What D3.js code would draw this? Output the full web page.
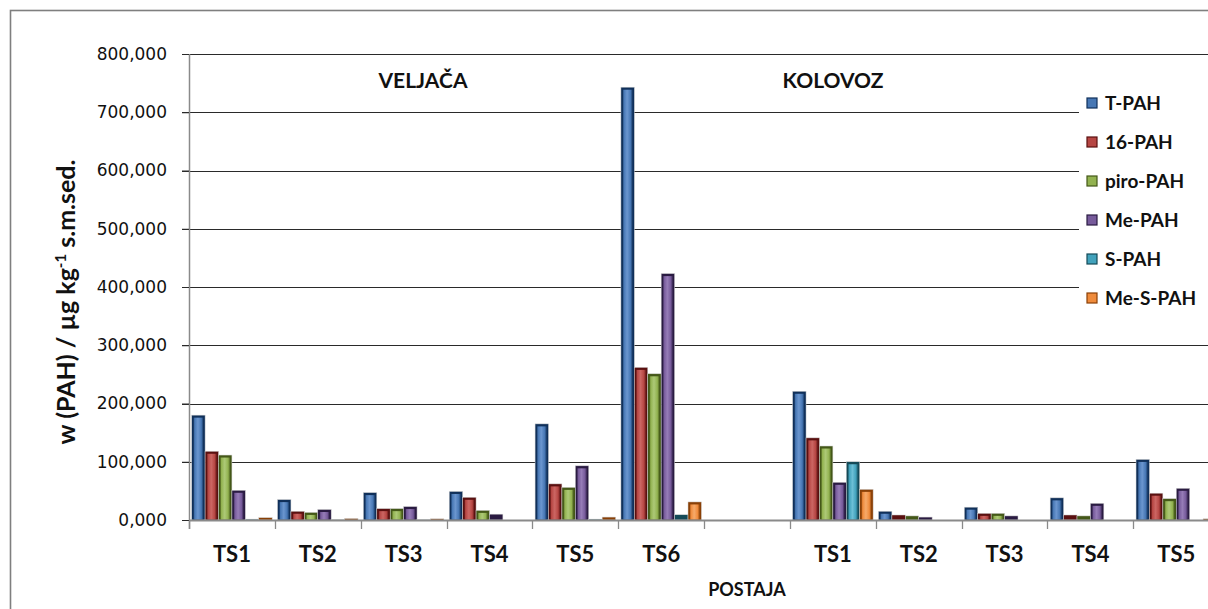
<!DOCTYPE html>
<html>
<head>
<meta charset="utf-8">
<script src="https://cdn.jsdelivr.net/npm/d3@7"></script>
<style>
  html, body { margin: 0; padding: 0; background: #fff; overflow: hidden; }
  svg { display: block; }
</style>
</head>
<body>
<svg id="chart" width="1208" height="609"></svg>
<script>
// ---- data ----
const categories = ["TS1", "TS2", "TS3", "TS4", "TS5", "TS6", "", "TS1", "TS2", "TS3", "TS4", "TS5"];
const seriesNames = ["T-PAH", "16-PAH", "piro-PAH", "Me-PAH", "S-PAH", "Me-S-PAH"];
const tPAH   = [180, 35, 47, 49, 165, 743, null, 221, 15, 22, 38, 104];
const pah16  = [118, 15, 19.5, 39, 62, 262, null, 141, 8.6, 11.4, 8.6, 46];
const piroPAH = [111.5, 13, 19.5, 16.5, 56, 251, null, 127, 7, 11.4, 7, 36.6];
const mePAH  = [51, 18, 23, 10, 93, 423, null, 64.7, 5, 7, 28.6, 54.4];
const sPAH   = [1.5, 0.5, 0.5, 0, 1.5, 9, null, 100, 0, 0, 0, 0];
const meSPAH = [4, 2.5, 2, 0, 5, 31, null, 52.6, 0, 0, 0, 2];
const seriesValues = [tPAH, pah16, piroPAH, mePAH, sPAH, meSPAH];
const yTicks = [0, 100, 200, 300, 400, 500, 600, 700, 800];
const periodLabels = ["VELJAČA", "KOLOVOZ"];
const yTitle = "w (PAH) / µg kg";
const xTitle = "POSTAJA";

// ---- styles ----
const colors = [
  { base: "#4777b4", light: "#6b96cf", dark: "#10305a" },
  { base: "#b64643", light: "#cc6663", dark: "#5a1010" },
  { base: "#92b250", light: "#adc977", dark: "#445818" },
  { base: "#775b9b", light: "#967cb7", dark: "#2a1b42" },
  { base: "#42a2bc", light: "#6cbfd6", dark: "#144a58" },
  { base: "#ef8b3c", light: "#f6aa6a", dark: "#8a4006" }
];
const periodX = [423, 833];

const svg = d3.select("#chart");
const W = 1208;
const plot = { left: 189, top: 54, bottom: 520, bandW: 85.85 };

// outer frame
svg.append("rect").attr("x", 10.5).attr("y", 10.5).attr("width", 1400).attr("height", 800)
  .attr("fill", "#fff").attr("stroke", "#7f7f7f").attr("stroke-width", 1.6);

const defs = svg.append("defs");
colors.forEach((c, i) => {
  const g = defs.append("linearGradient").attr("id", "g" + i).attr("x1", 0).attr("x2", 1).attr("y1", 0).attr("y2", 0);
  [[0, c.dark], [0.14, c.base], [0.45, c.light], [0.78, c.base], [1, c.dark]].forEach(([o, col]) =>
    g.append("stop").attr("offset", o).attr("stop-color", col));
});

const x0 = d3.scaleBand().domain(d3.range(categories.length))
  .range([plot.left, plot.left + plot.bandW * categories.length]).paddingInner(0).paddingOuter(0);
const x1 = d3.scaleBand().domain(d3.range(seriesNames.length)).range([0, x0.bandwidth()])
  .paddingInner(0).paddingOuter(0.2);
const y = d3.scaleLinear().domain([0, 800]).range([plot.bottom, plot.top]);

const loc = d3.formatLocale({ decimal: ",", thousands: ".", grouping: [3], currency: ["", ""] });
const fmt = loc.format(".3f");

// gridlines
svg.append("g").selectAll("line").data(yTicks.slice(1)).join("line")
  .attr("x1", plot.left - 7).attr("x2", W).attr("y1", d => Math.round(y(d)) + 0.5).attr("y2", d => Math.round(y(d)) + 0.5)
  .attr("stroke", "#2a2a2a").attr("stroke-width", 1.1);

// y axis
const yAxis = svg.append("g").attr("transform", `translate(${plot.left},0)`)
  .call(d3.axisLeft(y).tickValues(yTicks).tickFormat(fmt).tickSize(7).tickPadding(15));
yAxis.select(".domain").attr("stroke", "#8a8a8a").attr("stroke-width", 1.5).attr("d", `M0.5,${plot.top}V${plot.bottom + 9}`);
yAxis.selectAll(".tick line").attr("stroke", "#2a2a2a");
yAxis.selectAll(".tick text").attr("font-family", "DejaVu Sans, Verdana, sans-serif").attr("font-size", 17).attr("fill", "#111");

// bars
const groups = svg.append("g").selectAll("g").data(categories.map((c, i) => i)).join("g")
  .attr("transform", i => `translate(${x0(i)},0)`);
groups.each(function (ci) {
  const g = d3.select(this);
  seriesValues.forEach((vals, si) => {
    const v = vals[ci];
    if (v == null || v <= 0) return;
    const bx = x1(si), bw = x1.bandwidth();
    const top = y(v), h = plot.bottom - top;
    g.append("rect").attr("x", bx).attr("y", top).attr("width", bw).attr("height", h)
      .attr("fill", colors[si].dark).attr("stroke", "#d0d0d0").attr("stroke-width", 0.5);
    if (h > 6) {
      g.append("rect").attr("x", bx + 1.5).attr("y", top + 2.5).attr("width", bw - 3).attr("height", h - 3)
        .attr("fill", `url(#g${si})`);
    }
  });
});

// x axis
svg.append("line").attr("x1", plot.left).attr("x2", W).attr("y1", plot.bottom + 0.5).attr("y2", plot.bottom + 0.5)
  .attr("stroke", "#8a8a8a").attr("stroke-width", 2);
svg.append("g").selectAll("line").data(d3.range(categories.length + 1)).join("line")
  .attr("x1", i => Math.round(plot.left + i * x0.step()) + 0.5).attr("x2", i => Math.round(plot.left + i * x0.step()) + 0.5)
  .attr("y1", plot.bottom).attr("y2", plot.bottom + 9).attr("stroke", "#8a8a8a").attr("stroke-width", 1.3);
svg.append("g").selectAll("text").data(categories.map((c, i) => i)).join("text")
  .attr("x", i => x0(i) + x0.bandwidth() / 2).attr("y", 562)
  .attr("text-anchor", "middle").attr("font-family", "Lato, sans-serif").attr("font-weight", "bold")
  .attr("font-size", 22).attr("fill", "#111").text(i => categories[i]);

// period labels
svg.append("g").selectAll("text").data(periodLabels).join("text")
  .attr("x", (d, i) => periodX[i]).attr("y", 88)
  .attr("text-anchor", "middle").attr("font-family", "Lato, sans-serif").attr("font-weight", "bold")
  .attr("font-size", 21).attr("fill", "#111").text(d => d);

// x title
svg.append("text").attr("x", 747).attr("y", 596).attr("text-anchor", "middle")
  .attr("font-family", "Lato, sans-serif").attr("font-weight", "bold").attr("font-size", 18).attr("fill", "#111").text(xTitle);

// y title
const yt = svg.append("text").attr("transform", "translate(75,302) rotate(-90)").attr("text-anchor", "middle")
  .attr("font-family", "Lato, sans-serif").attr("font-weight", "bold").attr("font-size", 25).attr("fill", "#111");
yt.append("tspan").text(yTitle);
yt.append("tspan").attr("dy", -9).attr("font-size", 15).text("-1");
yt.append("tspan").attr("dy", 9).text(" s.m.sed.");

// legend
const leg = svg.append("g");
leg.append("rect").attr("x", 1079).attr("y", 76).attr("width", 140).attr("height", 238).attr("fill", "#fff");
const ly = d3.scalePoint().domain(d3.range(seriesNames.length)).range([103, 298]);
const li = leg.selectAll("g").data(seriesNames).join("g").attr("transform", (d, i) => `translate(1087,${ly(i)})`);
li.append("rect").attr("x", 0).attr("y", -5).attr("width", 10).attr("height", 10)
  .attr("fill", (d, i) => colors[i].base).attr("stroke", (d, i) => colors[i].dark).attr("stroke-width", 1.2);
li.append("text").attr("x", 18).attr("y", 7).attr("font-family", "Lato, sans-serif").attr("font-weight", "bold")
  .attr("font-size", 19).attr("fill", "#111").text(d => d);
</script>
</body>
</html>
